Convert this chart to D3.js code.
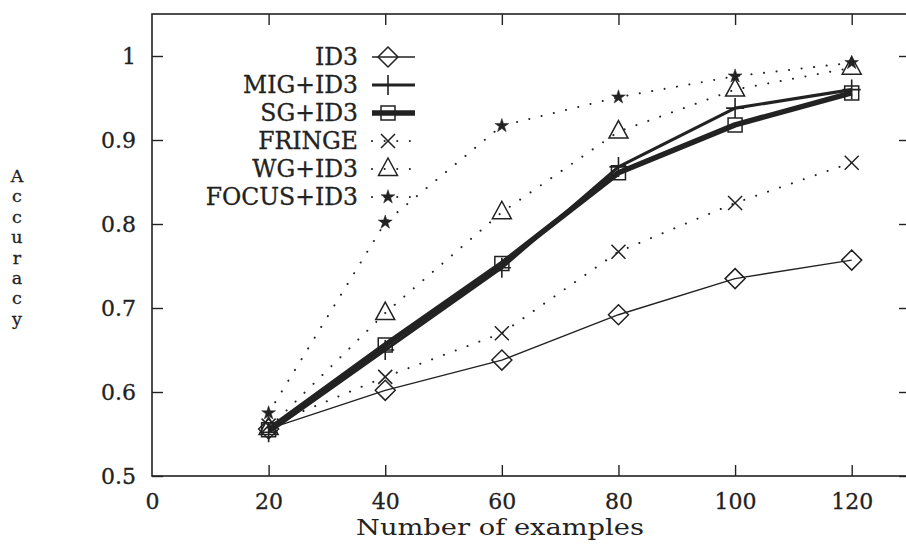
<!DOCTYPE html>
<html>
<head>
<meta charset="utf-8">
<script src="https://cdn.jsdelivr.net/npm/d3@7"></script>
<style>
  body { margin: 0; background: #fff; }
  text { font-family: "DejaVu Serif", "Liberation Serif", serif; fill: #222; stroke: #222; stroke-width: 0.3px; }
</style>
</head>
<body>
<svg id="chart" width="906" height="545"></svg>
<script>
// data
var examples = [20, 40, 60, 80, 100, 120];
var id3   = [0.556, 0.602, 0.638, 0.692, 0.735, 0.757];
var mig   = [0.552, 0.650, 0.748, 0.868, 0.938, 0.960];
var sg    = [0.555, 0.656, 0.753, 0.861, 0.918, 0.956];
var fringe = [0.560, 0.618, 0.670, 0.767, 0.825, 0.873];
var wg    = [0.557, 0.694, 0.814, 0.910, 0.960, 0.986];
var focus = [0.575, 0.802, 0.917, 0.951, 0.976, 0.992];

var seriesNames = ["ID3", "MIG+ID3", "SG+ID3", "FRINGE", "WG+ID3", "FOCUS+ID3"];
var xTicks = [0, 20, 40, 60, 80, 100, 120];
var yTicks = [0.5, 0.6, 0.7, 0.8, 0.9, 1];

var ink = "#222";
var svg = d3.select("#chart");

var x = d3.scaleLinear().domain([0, 130]).range([152, 910]);
var y = d3.scaleLinear().domain([0.5, 1.05]).range([476, 14]);

// series table: values + style
var series = [
  {name: seriesNames[0], values: id3,    width: 1.4, dash: null, mark: "diamond"},
  {name: seriesNames[1], values: mig,    width: 3.2, dash: null, mark: "plus"},
  {name: seriesNames[2], values: sg,     width: 5.5, dash: null, mark: "square"},
  {name: seriesNames[3], values: fringe, width: 2,   dash: "0.1 12.5", mark: "cross"},
  {name: seriesNames[4], values: wg,     width: 2,   dash: "0.1 12.5", mark: "triangle"},
  {name: seriesNames[5], values: focus,  width: 2,   dash: "0.1 12.5", mark: "star"}
];

function markPath(kind) {
  if (kind == "diamond") return "M0,-10L10,0L0,10L-10,0Z";
  if (kind == "plus") return "M-9,0H9M0,-10V10";
  if (kind == "square") return "M-7,-7H7V7H-7Z";
  if (kind == "cross") return "M-7,-7L7,7M-7,7L7,-7";
  if (kind == "triangle") return "M0,-11L9.5,6.5H-9.5Z";
  return d3.symbol().type(d3.symbolStar).size(60)();
}

function drawMark(g, kind, px, py) {
  var p = g.append("path")
    .attr("d", markPath(kind))
    .attr("transform", "translate(" + px + "," + py + ")")
    .attr("stroke", ink);
  if (kind == "star") {
    p.attr("fill", ink).attr("stroke-width", 0.5);
  } else {
    p.attr("fill", "none").attr("stroke-width", kind == "plus" ? 1.6 : 1.5);
  }
}

// frame
svg.append("rect")
  .attr("x", x(0)).attr("y", y(1.05))
  .attr("width", x(130) - x(0)).attr("height", y(0.5) - y(1.05))
  .attr("fill", "none").attr("stroke", ink).attr("stroke-width", 1.6);

// axes
var yAxis = d3.axisLeft(y).tickValues(yTicks).tickSize(-11).tickPadding(16)
  .tickFormat(function (d) { return d == 1 ? "1" : d3.format(".1f")(d); });
var xAxis = d3.axisBottom(x).tickValues(xTicks).tickSize(-11).tickPadding(17)
  .tickFormat(d3.format("d"));

var gy = svg.append("g").attr("transform", "translate(" + x(0) + ",0)").call(yAxis);
var gx = svg.append("g").attr("transform", "translate(0," + y(0.5) + ")").call(xAxis);
var gyr = svg.append("g").attr("transform", "translate(" + x(130) + ",0)")
  .call(d3.axisRight(y).tickValues(yTicks).tickSize(-11).tickFormat(""));
var gxt = svg.append("g").attr("transform", "translate(0," + y(1.05) + ")")
  .call(d3.axisTop(x).tickValues(xTicks.slice(1)).tickSize(-11).tickFormat(""));

[gy, gx, gyr, gxt].forEach(function (g) {
  g.select(".domain").remove();
  g.selectAll(".tick line").attr("stroke", ink).attr("stroke-width", 1.4);
  g.selectAll(".tick text").style("font-size", "22px").attr("fill", ink);
});
gx.selectAll(".tick").filter(function (d) { return d == 0; }).select("line").remove();

// axis titles
svg.append("text")
  .attr("x", 500).attr("y", 535)
  .attr("text-anchor", "middle")
  .attr("textLength", 288)
  .attr("lengthAdjust", "spacingAndGlyphs")
  .style("font-size", "21.5px")
  .style("stroke-width", "0px")
  .text("Number of examples");

var letters = "Accuracy".split("");
svg.append("g").selectAll("text")
  .data(letters)
  .enter().append("text")
    .attr("x", 17)
    .attr("y", function (d, i) { return 182 + i * 20.4; })
    .attr("text-anchor", "middle")
    .style("font-size", "17.5px")
    .text(function (d) { return d; });

// lines
var line = d3.line()
  .x(function (d, i) { return x(examples[i]); })
  .y(function (d) { return y(d); });

series.forEach(function (s) {
  svg.append("path")
    .datum(s.values)
    .attr("d", line)
    .attr("fill", "none")
    .attr("stroke", ink)
    .attr("stroke-width", s.width)
    .attr("stroke-linejoin", "round")
    .attr("stroke-linecap", s.dash ? "round" : "butt")
    .attr("stroke-dasharray", s.dash);
  var g = svg.append("g");
  s.values.forEach(function (v, i) {
    drawMark(g, s.mark, x(examples[i]), y(v));
  });
});

// legend
var legend = svg.append("g");
series.forEach(function (s, i) {
  var ly = 57 + i * 28;
  legend.append("text")
    .attr("x", 358).attr("y", ly + 8)
    .attr("text-anchor", "end")
    .style("font-size", "23.5px")
    .text(s.name);
  legend.append("line")
    .attr("x1", 372).attr("x2", 415)
    .attr("y1", ly).attr("y2", ly)
    .attr("stroke", ink)
    .attr("stroke-width", s.width)
    .attr("stroke-linecap", s.dash ? "round" : "butt")
    .attr("stroke-dasharray", s.dash);
  drawMark(legend, s.mark, 388, ly);
});
</script>
</body>
</html>
